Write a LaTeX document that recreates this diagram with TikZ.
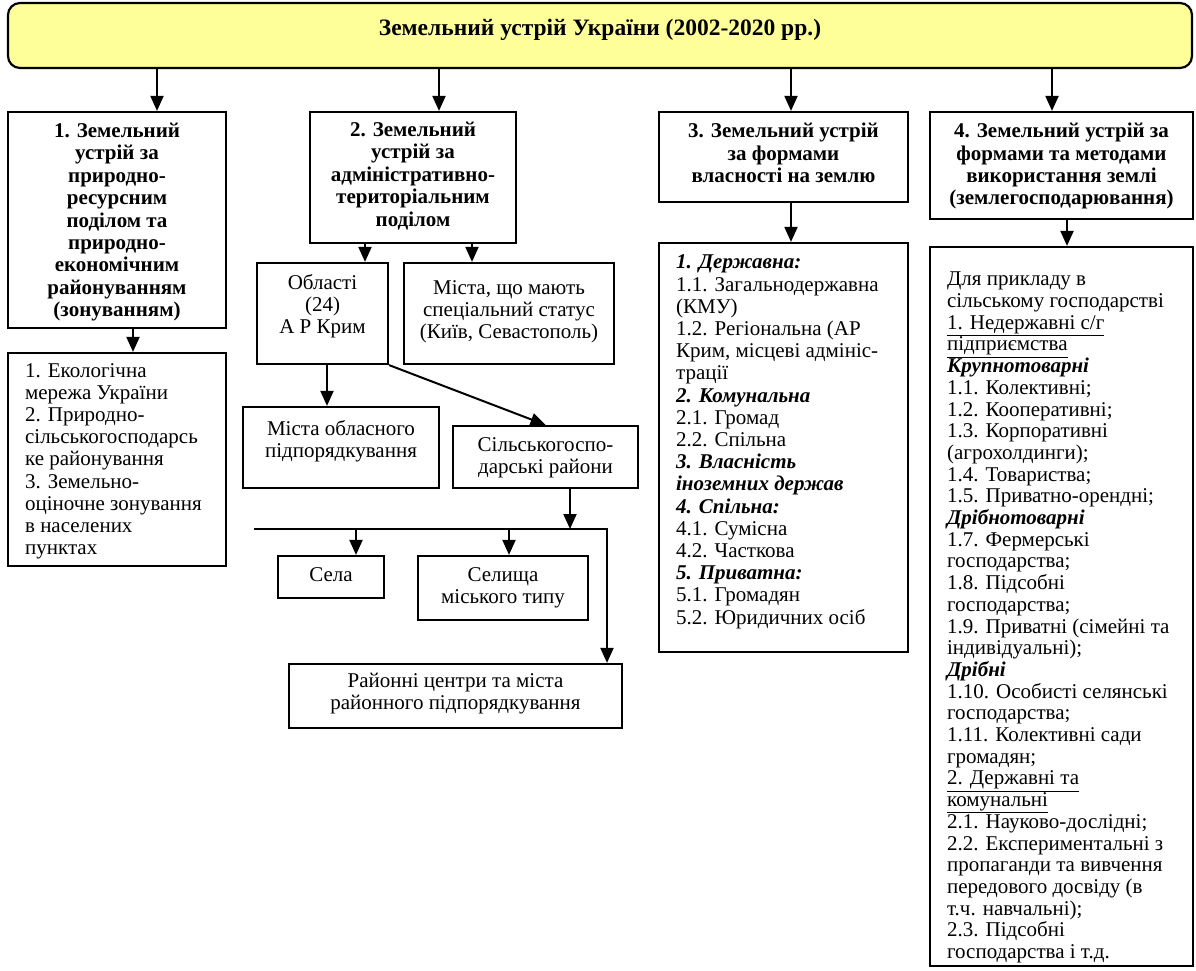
\documentclass[tikz,border=0pt]{standalone}
\usepackage{fontspec}
\setmainfont{Liberation Serif}
\usetikzlibrary{arrows.meta,fit,positioning}

\definecolor{titleyellow}{RGB}{255,255,153}

\tikzset{
  box/.style={draw, line width=2.2pt, inner sep=0pt},
  boxtxt/.style={inner sep=0pt, anchor=north, align=center, font=\fontsize{21}{22}\selectfont},
  headtxt/.style={inner sep=0pt, anchor=north, align=center, font=\fontsize{21}{22.4}\selectfont\bfseries},
  listtxt/.style={inner sep=0pt, anchor=north west, align=left, font=\fontsize{21}{22.2}\selectfont},
  titletxt/.style={font=\fontsize{23.5}{26}\selectfont\bfseries},
  arr/.style={line width=2pt, -{Triangle[width=13pt,length=15pt]}},
}

\newcommand{\bi}[1]{\textbf{\textit{#1}}}

\begin{document}
\begin{tikzpicture}[x=1pt, y=-1pt]
\useasboundingbox (0,0) rectangle (1196,970);

% title
\node[box, rounded corners=12pt, fill=titleyellow, fit={(8,3) (1192,68)}] (top) {};
\node[titletxt] (toptxt) at (600,30) {Земельний устрій України (2002-2020 рр.)};

% four kinds of land system
\node[box, fit={(8,112) (226,328)}] (nat) {};
\node[headtxt] (natT) at ([yshift=-12pt]nat.north) {1. Земельний\\ устрій за\\ природно-\\ ресурсним\\ поділом та\\ природно-\\ економічним\\ районуванням\\ (зонуванням)};
\node[box, fit={(310,112) (516,243)}] (adm) {};
\node[headtxt] (admT) at ([yshift=-11pt]adm.north) {2. Земельний\\ устрій за\\ адміністративно-\\ територіальним\\ поділом};
\node[box, fit={(659,112) (908,202)}] (own) {};
\node[headtxt] (ownT) at ([yshift=-12pt]own.north) {3. Земельний устрій\\ за формами\\ власності на землю};
\node[box, fit={(930,112) (1193,219)}] (use) {};
\node[headtxt] (useT) at ([yshift=-12pt]use.north) {4. Земельний устрій за\\ формами та методами\\ використання землі\\ (землегосподарювання)};

\draw[arr] ([xshift=40pt]nat.north |- top.south) -- ([xshift=40pt]nat.north);
\draw[arr] ([xshift=26pt]adm.north |- top.south) -- ([xshift=26pt]adm.north);
\draw[arr] ([xshift=7.5pt]own.north |- top.south) -- ([xshift=7.5pt]own.north);
\draw[arr] ([xshift=-9.5pt]use.north |- top.south) -- ([xshift=-9.5pt]use.north);

% 1: zoning
\node[box, fit={(8,353) (226,566)}] (natlist) {};
\node[listtxt] (natlistT) at ([xshift=18pt, yshift=-11pt]natlist.north west) {1. Екологічна\\ мережа України\\ 2. Природно-\\ сільськогосподарсь\\ ке районування\\
  3. Земельно-\\ оціночне зонування\\ в населених\\ пунктах};
\draw[arr] ([xshift=16pt]nat.south) -- ([xshift=16pt]nat.south |- natlist.north);

% 2: administrative units
\node[box, fit={(257,263) (388,364)}] (obl) {};
\node[boxtxt] (oblT) at ([yshift=-12pt]obl.north) {Області\\ (24)\\ А Р Крим};
\node[box, fit={(404,263) (614,364)}] (spec) {};
\node[boxtxt] (specT) at ([yshift=-18pt]spec.north) {Міста, що мають\\ спеціальний статус\\ (Київ, Севастополь)};
\draw[arr] ([xshift=-48pt]adm.south) -- ([xshift=-48pt]adm.south |- obl.north);
\draw[arr] ([xshift=59pt]adm.south) -- ([xshift=59pt]adm.south |- spec.north);

\node[box, fit={(243,407) (439,488)}] (cityobl) {};
\node[boxtxt] (cityoblT) at ([yshift=-14pt]cityobl.north) {Міста обласного\\ підпорядкування};
\node[box, fit={(453,426) (638,488)}] (rural) {};
\node[boxtxt] (ruralT) at ([yshift=-12pt]rural.north) {Сільськогоспо-\\ дарські райони};
\draw[arr] ([xshift=4.5pt]obl.south) -- ([xshift=4.5pt]obl.south |- cityobl.north);
\draw[arr] (obl.south east) -- (rural.north);

\coordinate (busl) at (254,529);
\coordinate (busr) at (607,529);
\node[box, fit={(278,556) (384,598)}] (sela) {};
\node[boxtxt] (selaT) at ([yshift=-12pt]sela.north) {Села};
\node[box, fit={(418,556) (588,620)}] (smt) {};
\node[boxtxt] (smtT) at ([yshift=-12pt]smt.north) {Селища\\ міського типу};
\node[box, fit={(289,664) (622,728)}] (centres) {};
\node[boxtxt] (centresT) at ([yshift=-10pt]centres.north) {Районні центри та міста\\ районного підпорядкування};
\draw[arr] ([xshift=24.5pt]rural.south) -- ([xshift=24.5pt]rural.south |- busr);
\draw[arr] (busl) -- (busr) -- (busr |- centres.north);
\draw[arr] ([xshift=25pt]sela.north |- busl) -- ([xshift=25pt]sela.north);
\draw[arr] ([xshift=6pt]smt.north |- busl) -- ([xshift=6pt]smt.north);

% 3: ownership
\node[box, fit={(659,243) (908,652)}] (ownlist) {};
\node[listtxt] (ownlistT) at ([xshift=18pt, yshift=-13pt]ownlist.north west) {\bi{1. Державна:}\\ 1.1. Загальнодержавна\\ (КМУ)\\ 1.2. Регіональна (АР\\ Крим, місцеві адмініс-\\ трації\\
  \bi{2. Комунальна}\\ 2.1. Громад\\ 2.2. Спільна\\
  \bi{3. Власність}\\ \bi{іноземних держав}\\
  \bi{4. Спільна:}\\ 4.1. Сумісна\\ 4.2. Часткова\\
  \bi{5. Приватна:}\\ 5.1. Громадян\\ 5.2. Юридичних осіб};
\draw[arr] ([xshift=7.5pt]own.south) -- ([xshift=7.5pt]own.south |- ownlist.north);

% 4: land use
\node[box, fit={(930,247) (1193,966)}] (uselist) {};
\node[listtxt, font=\fontsize{21}{21.7}\selectfont] (uselistT) at ([xshift=18pt, yshift=-26pt]uselist.north west) {Для прикладу в\\ сільському господарстві\\ \underline{1. Недержавні с/г}\\ \underline{підприємства}\\
  \bi{Крупнотоварні}\\ 1.1. Колективні;\\ 1.2. Кооперативні;\\ 1.3. Корпоративні\\ (агрохолдинги);\\
  1.4. Товариства;\\ 1.5. Приватно-орендні;\\
  \bi{Дрібнотоварні}\\ 1.7. Фермерські\\ господарства;\\ 1.8. Підсобні\\ господарства;\\
  1.9. Приватні (сімейні та\\ індивідуальні);\\
  \bi{Дрібні}\\ 1.10. Особисті селянські\\ господарства;\\ 1.11. Колективні сади\\ громадян;\\
  \underline{2. Державні та}\\ \underline{комунальні}\\ 2.1. Науково-дослідні;\\
  2.2. Експериментальні з\\ пропаганди та вивчення\\ передового досвіду (в\\ т.ч. навчальні);\\
  2.3. Підсобні\\ господарства і т.д.};
\draw[arr] ([xshift=5.5pt]use.south) -- ([xshift=5.5pt]use.south |- uselist.north);
\end{tikzpicture}
\end{document}
